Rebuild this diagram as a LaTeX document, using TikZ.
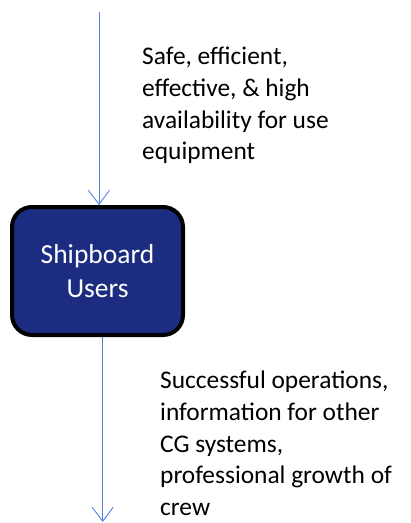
\documentclass[tikz,border=0pt]{standalone}
\usepackage{fontspec}
\setmainfont{Carlito}
\usetikzlibrary{positioning,arrows.meta}
\definecolor{flowblue}{RGB}{80,130,230}
\definecolor{boxblue}{RGB}{28,44,128}

\begin{document}
\begin{tikzpicture}[x=1pt,y=-1pt,
    flow/.style={draw=flowblue,line width=0.9pt,-{Straight Barb[length=14pt,width=21pt,line width=0.9pt]}},
    userbox/.style={draw=black,line width=4pt,fill=boxblue,rounded corners=20pt,
        minimum width=171pt,minimum height=128pt,text=white,align=center,
        font=\fontsize{27.5}{34}\selectfont},
    flowtext/.style={anchor=north west,inner sep=0pt,align=left,
        font=\fontsize{25.4}{31.7}\selectfont}]
    %%%%% START %%%%%
    
    \useasboundingbox (0,0) rectangle (411,523);
    
    \coordinate (src) at (99,12);
    \coordinate (snk) at (102.7,522);
    \node[userbox] (users) at (97.5,271) {Shipboard\\Users};
    
    \draw[flow] (src) -- (src |- users.north);
    \draw[flow] (users.south -| snk) -- (snk);
    
    \node[flowtext] (needs) at (142,47) {Safe, efficient,\\effective, \& high\\availability for use\\equipment};
    \node[flowtext] (outputs) at (160,371) {Successful operations,\\information for other\\CG systems,\\professional growth of\\crew};
    
    %%%%% END %%%%%
\end{tikzpicture}
\end{document}
